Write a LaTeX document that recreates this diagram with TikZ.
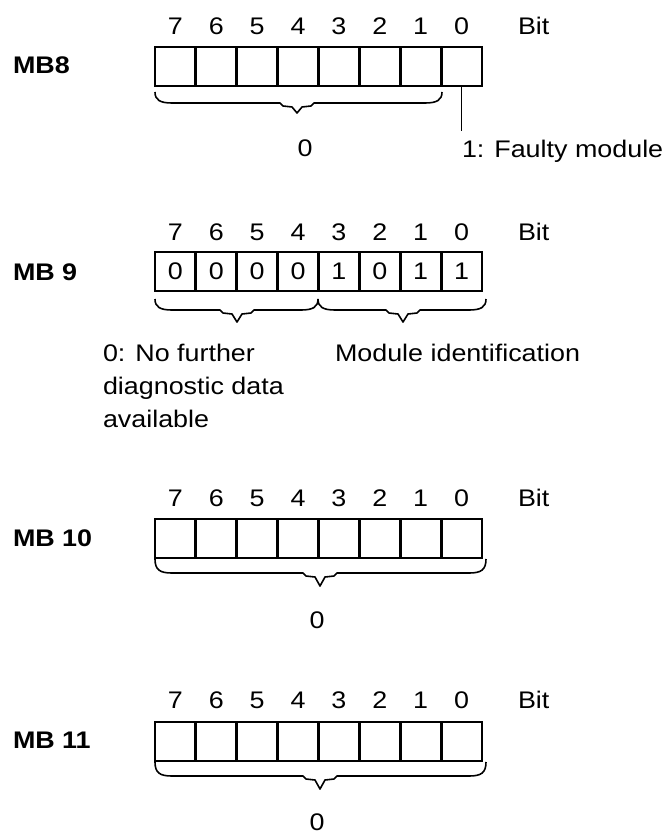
\documentclass[tikz,border=0pt]{standalone}
\usepackage{fontspec}
\setmainfont{Liberation Sans}[FakeStretch=1.12]
\newcommand\mybyte[3]{%
  \foreach \b in {0,...,7} {
    \node[cell] (#1-\b) at ({155+(7.5-\b)*40.875},{#2+19.5}) {};
    \node[txt] (#1-n\b) at ({155+(7.5-\b)*40.875},{#3}) {\b};
  }
  \foreach \b in {1,...,7} {
    \draw[divider] (#1-\b.north east) -- (#1-\b.south east);
  }
  \node[txt, anchor=west] (#1-bit) at (518,{#3}) {Bit};
}
\newcommand\mybrace[6]{%
  \draw[brace] (#1,#4) .. controls (#1,#5-3) and (#1+5,#5) .. (#1+17,#5)
    -- (#3-17,#5) -- (#3-14,#5+3) -- (#3-5,#5+4) -- (#3,#6)
    -- (#3+5,#5+4) -- (#3+14,#5+3) -- (#3+17,#5)
    -- (#2-17,#5) .. controls (#2-5,#5) and (#2,#5-3) .. (#2,#4);
}
\begin{document}
\begin{tikzpicture}[x=1pt,y=-1pt,
  every node/.style={inner sep=0pt, outer sep=0pt},
  txt/.style={font=\fontsize{24}{33}\selectfont},
  lbl/.style={font=\fontsize{24}{33}\selectfont\bfseries, anchor=west},
  cell/.style={draw, line width=1.6pt, minimum width=40.875pt, minimum height=39pt},
  divider/.style={line width=3.2pt},
  brace/.style={line width=1.6pt, line join=round}]
\useasboundingbox[fill=white] (0,0) rectangle (665,834);

% MB8
\node[lbl] (l8) at (13,65) {MB8};
\mybyte{a}{47}{26}
\mybrace{155}{442}{297}{92}{103}{113}
\node[txt] (z8) at (305,148) {0};
\node[txt, anchor=base west] (fm) at (462,158) {1: Faulty module};
\draw[line width=1.6pt, shorten >=10pt] (a-0.south) -- (a-0.south |- fm.north);

% MB9
\node[lbl] (l9) at (13,272) {MB 9};
\mybyte{b}{252}{232}
\foreach \b/\v in {7/0,6/0,5/0,4/0,3/1,2/0,1/1,0/1} {
  \node[txt] (v\b) at (b-\b) {\v};
}
\mybrace{155}{318}{237}{299}{310}{322}
\mybrace{318}{486}{403}{299}{310}{322}
\node[txt, anchor=base west] (t1) at (103,361) {0: No further};
\node[txt, anchor=base west] (t2) at (103,394) {diagnostic data};
\node[txt, anchor=base west] (t3) at (103,427) {available};
\node[txt, anchor=base west] (mi) at (335,361) {Module identification};

% MB10
\node[lbl] (l10) at (13,538) {MB 10};
\mybyte{c}{519}{498}
\mybrace{155}{486}{320}{559}{573}{586}
\node[txt] (z10) at (317,620) {0};

% MB11
\node[lbl] (l11) at (13,740) {MB 11};
\mybyte{d}{722}{700}
\mybrace{155}{486}{320}{762}{776}{789}
\node[txt] (z11) at (317,822) {0};
\end{tikzpicture}
\end{document}
